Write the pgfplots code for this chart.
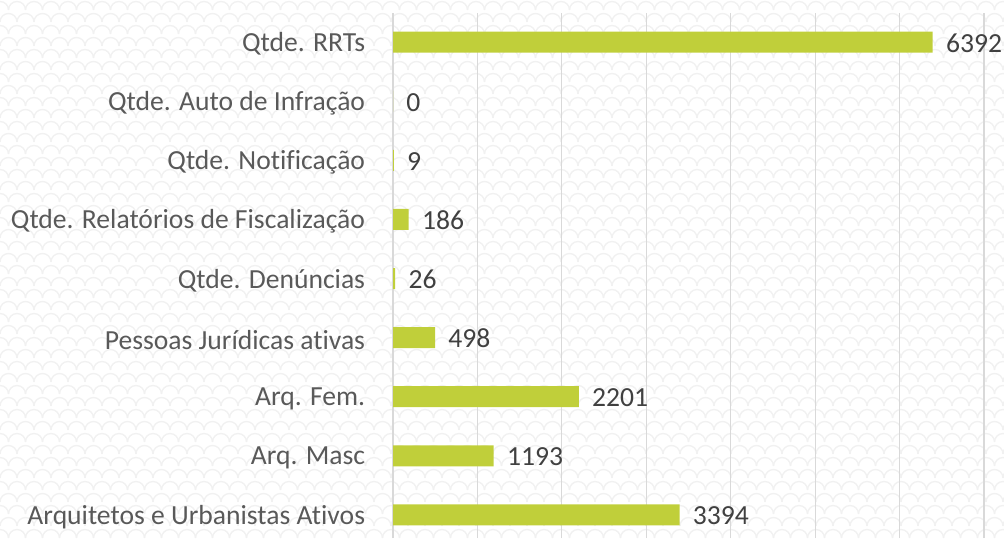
\documentclass[border=0pt]{standalone}
\usepackage{pgfplots}
\pgfplotsset{compat=1.18}
\usepackage{fontspec}
\setmainfont{Carlito}[Ligatures={NoCommon}]
\definecolor{barc}{HTML}{C0CF3A}
\definecolor{gridc}{HTML}{D9D9D9}
\definecolor{labc}{HTML}{595959}
\definecolor{valc}{HTML}{404040}
\definecolor{patc}{HTML}{F1F1F1}
\begin{document}
\begin{tikzpicture}[x=1pt,y=1pt]
\useasboundingbox (0,0) rectangle (502,269);
\begin{scope}
\clip (0,0) rectangle (502,269);
\foreach \r in {0,...,46}{
  \foreach \c in {0,...,60}{
    \pgfmathsetmacro{\xx}{\c*8.5 + mod(\r,2)*4.25}
    \pgfmathsetmacro{\yy}{\r*6}
    \draw[patc, line width=0.7pt] (\xx-4.25,\yy) arc (180:0:4.25);
  }
}
\end{scope}
\begin{axis}[
  at={(196.5pt,0pt)}, anchor=south west,
  scale only axis, width=295.5pt, height=262.75pt,
  xbar, bar width=10.5pt,
  xmin=0, xmax=7000, ymin=-0.39, ymax=8.5,
  xtick={0,1000,...,7000}, xticklabels={},
  xmajorgrids, grid style={gridc, line width=0.6pt},
  axis line style={draw=none},
  tick style={draw=none},
  ytick={0,...,8},
  yticklabels={Arquitetos e Urbanistas Ativos, Arq. Masc, Arq. Fem.\ , Pessoas Jurídicas ativas, Qtde. Denúncias, Qtde. Relatórios de Fiscalização, Qtde. Notificação, Qtde. Auto de Infração, Qtde. RRTs\ },
  yticklabel style={font=\fontsize{13.8}{16}\selectfont, text=labc, anchor=east, inner sep=0pt, xshift=-9.5pt, yshift=-1pt},
  nodes near coords,
  point meta=explicit,
  /pgf/number format/1000 sep={},
  /pgf/number format/assume math mode=true,
  every node near coord/.append style={font=\fontsize{13.8}{16}\selectfont, text=valc, anchor=west, inner sep=0pt, xshift=6.5pt, yshift=-0.5pt},
  clip=false,
]
\addplot[fill=barc, draw=none] coordinates {
 (3394,0) [3394]
 (1193,1) [1193]
 (2201,2) [2201]
 (498,3) [498]
 (26,4) [26]
 (186,5) [186]
 (9,6) [9]
 (0,7) [0]
 (6392,8) [6392]
};
\end{axis}
\end{tikzpicture}
\end{document}
